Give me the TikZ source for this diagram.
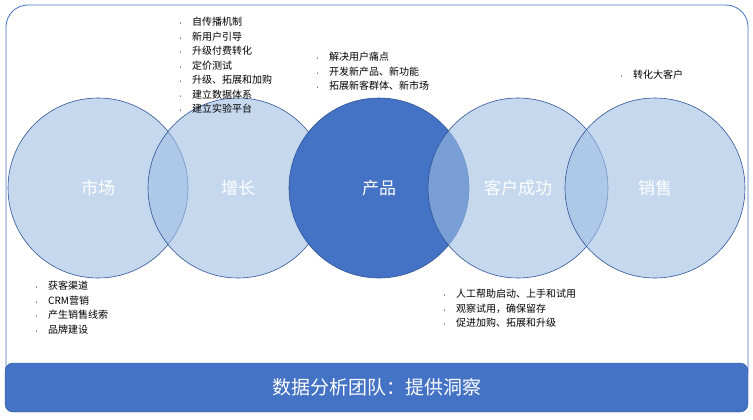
\documentclass[tikz,border=0pt]{standalone}
\usepackage{fontspec}
\setmainfont{Noto Sans CJK SC}
\definecolor{edgeblue}{HTML}{2F5597}
\definecolor{darkblue}{HTML}{4472C4}
\definecolor{lightblue}{HTML}{9EBEE3}
\newcommand{\pt}[1]{\makebox[14pt][l]{\tiny\textbullet}#1}
\tikzset{
  ring/.style={circle,draw=edgeblue,line width=0.6pt,minimum size=180pt,inner sep=0pt,fill=lightblue,fill opacity=0.6,text opacity=1,text=white,font=\fontsize{17}{20}\selectfont},
  notes/.style={anchor=north west,align=left,inner sep=0pt,font=\fontsize{10}{14.5}\selectfont}
}
\begin{document}
\begin{tikzpicture}[x=1pt,y=-1pt]
  \useasboundingbox (0,0) rectangle (753,420);
  % Frame
  \draw[darkblue,line width=0.8pt,rounded corners=22pt] (6,5) rectangle (748,392);
  % Circles
  \node[ring] (M) at (98,188) {市场};
  \node[ring] (G) at (238,188) {增长};
  \node[ring,fill=darkblue,fill opacity=1] (P) at (379,188) {产品};
  \node[ring] (C) at (518,188) {客户成功};
  \node[ring] (S) at (655,188) {销售};
  % Notes
  \node[notes] (Gn) at (178,17) {\pt{自传播机制}\\\pt{新用户引导}\\\pt{升级付费转化}\\\pt{定价测试}\\\pt{升级、拓展和加购}\\\pt{建立数据体系}\\\pt{建立实验平台}};
  \node[notes] (Pn) at (315,52) {\pt{解决用户痛点}\\\pt{开发新产品、新功能}\\\pt{拓展新客群体、新市场}};
  \node[notes] (Sn) at (619,70) {\pt{转化大客户}};
  \node[notes] (Mn) at (34,281) {\pt{获客渠道}\\\pt{CRM营销}\\\pt{产生销售线索}\\\pt{品牌建设}};
  \node[notes] (Cn) at (442,289) {\pt{人工帮助启动、上手和试用}\\\pt{观察试用，确保留存}\\\pt{促进加购、拓展和升级}};
  % Bottom bar
  \node[draw=edgeblue,fill=darkblue,rounded corners=8pt,minimum width=743pt,minimum height=49pt,text=white,font=\fontsize{19}{22}\selectfont] (D) at (376.5,387.5) {数据分析团队：提供洞察};
\end{tikzpicture}
\end{document}
